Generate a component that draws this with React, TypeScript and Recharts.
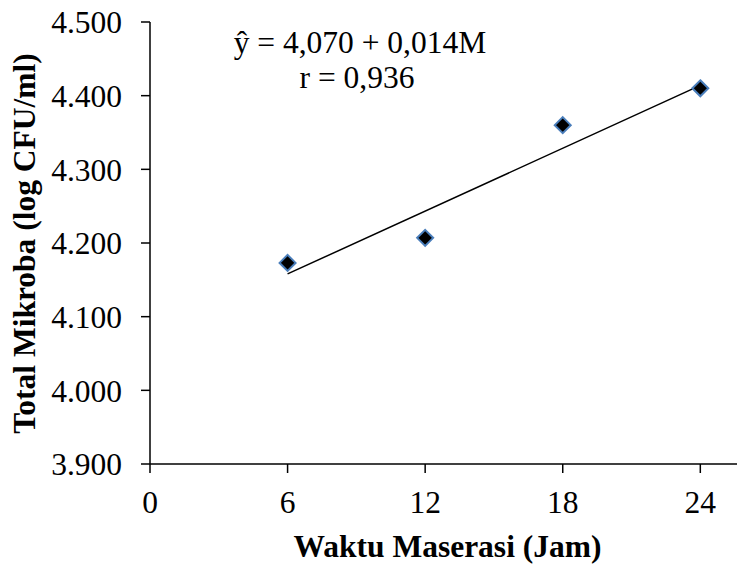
import React from "react";
import { ScatterChart, Scatter, XAxis, YAxis, Customized } from "recharts";

const hours = [6, 12, 18, 24];
const microbes = [4.173, 4.207, 4.36, 4.41];
const trendHours = [6, 24];
const trendValues = [4.158, 4.414];
const xTicks = [0, 6, 12, 18, 24];
const yTicks = [3.9, 4.0, 4.1, 4.2, 4.3, 4.4, 4.5];
const equationText = "ŷ = 4,070 + 0,014M";
const rText = "r = 0,936";
const xTitle = "Waktu Maserasi (Jam)";
const yTitle = "Total Mikroba (log CFU/ml)";

const points = hours.map((h, i) => ({ x: h, y: microbes[i] }));
const trend = trendHours.map((h, i) => ({ x: h, y: trendValues[i] }));

const FONT = "'Liberation Serif', 'Times New Roman', serif";
const FS = 31.5;

const Diamond = (props: any) => {
  const { cx, cy } = props;
  if (cx == null || cy == null) return <g />;
  const r = 8;
  return (
    <path
      d={`M${cx},${cy - r} L${cx + r},${cy} L${cx},${cy + r} L${cx - r},${cy} Z`}
      fill="#000"
      stroke="#4a7ebb"
      strokeWidth={2}
    />
  );
};

const NoShape = () => <g />;

const Texts = () => (
  <g fontFamily={FONT} fill="#000">
    <text x={360} y={53} textAnchor="middle" fontSize={FS}>
      {equationText}
    </text>
    <text x={357} y={88} textAnchor="middle" fontSize={FS}>
      {rText}
    </text>
    <text x={447.5} y={557} textAnchor="middle" fontSize={FS} fontWeight="bold">
      {xTitle}
    </text>
    <text
      transform="translate(35,243.5) rotate(-90)"
      textAnchor="middle"
      fontSize={FS}
      fontWeight="bold"
    >
      {yTitle}
    </text>
  </g>
);

export default function App() {
  return (
    <div style={{ position: "absolute", left: 0, top: 0, width: 737, height: 567, background: "#fff" }}>
      <ScatterChart width={737} height={567} margin={{ top: 22, right: 0, left: 0, bottom: 0 }}>
        <XAxis
          type="number"
          dataKey="x"
          domain={[0, 25.6]}
          ticks={xTicks}
          allowDataOverflow
          height={103}
          tickSize={9}
          tickMargin={18}
          axisLine={{ stroke: "#000", strokeWidth: 1.5 }}
          tickLine={{ stroke: "#000", strokeWidth: 1.5 }}
          tick={{ fill: "#000", fontSize: FS, fontFamily: FONT }}
        />
        <YAxis
          type="number"
          dataKey="y"
          domain={[3.9, 4.5]}
          ticks={yTicks}
          allowDataOverflow
          width={150}
          tickSize={9}
          tickMargin={19}
          tickFormatter={(v: number) => v.toFixed(3)}
          axisLine={{ stroke: "#000", strokeWidth: 1.5 }}
          tickLine={{ stroke: "#000", strokeWidth: 1.5 }}
          tick={{ fill: "#000", fontSize: FS, fontFamily: FONT }}
        />
        <Scatter
          data={trend}
          line={{ stroke: "#000", strokeWidth: 1.5 }}
          shape={NoShape}
          isAnimationActive={false}
        />
        <Scatter data={points} shape={Diamond} isAnimationActive={false} />
        <Customized component={Texts} />
      </ScatterChart>
    </div>
  );
}
